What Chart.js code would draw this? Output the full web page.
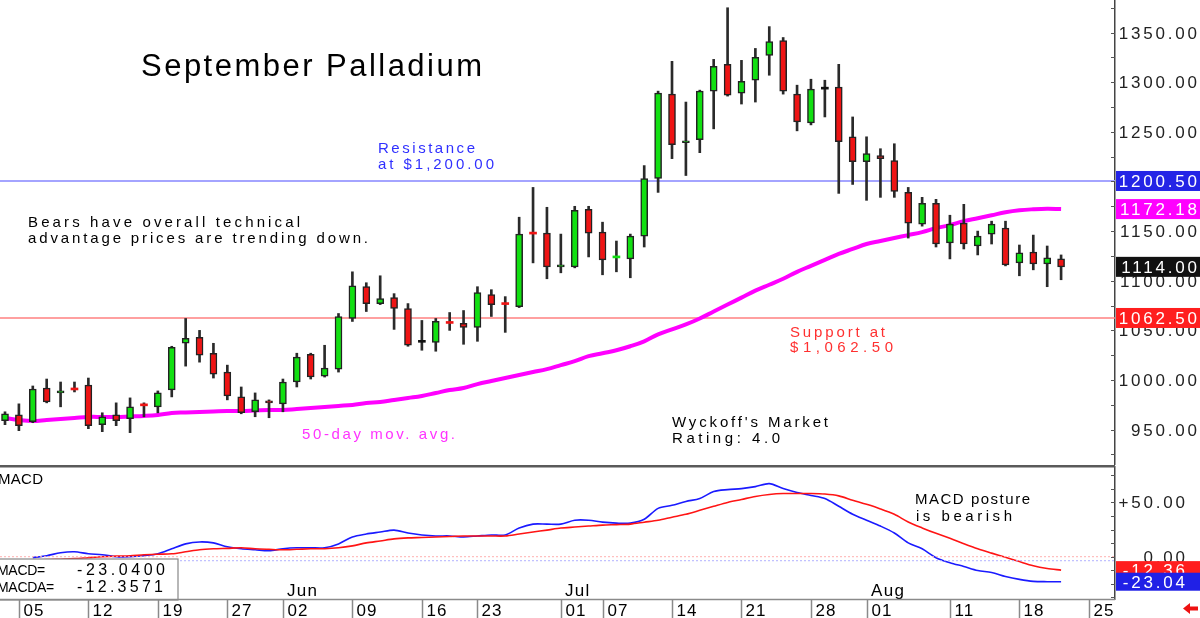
<!DOCTYPE html>
<html>
<head>
<meta charset="utf-8">
<script src="https://cdn.jsdelivr.net/npm/chart.js@4.4.0/dist/chart.umd.min.js"></script>
<style>
  html, body { margin: 0; padding: 0; background: #fff; overflow: hidden; }
  #wrap { position: relative; width: 1200px; height: 618px; }
  canvas { position: absolute; left: 0; }
  #main { top: 0; }
  #macd { top: 465px; }
</style>
</head>
<body>
<div id="wrap">
  <canvas id="main" width="1200" height="465"></canvas>
  <canvas id="macd" width="1200" height="153"></canvas>
</div>
<script>
// daily OHLC, one entry per trading session
const opens  = [959,965,958,992,987,991.5,995,955,965,961,975.5,973,990,1037,1043,1027,1008,983,968,979,
                976,998,1026,1004,1011,1062,1094,1077,1083,1072,1039,1038,1058.5,1057,1053,1086,1077.5,
                1074,1148.5,1148,1114,1114,1172,1149,1123.5,1122,1145,1203,1288,1239,1242,1291,1318,1289,
                1302,1327,1342,1288,1259,1294,1295,1245,1220,1226,1221,1189,1157,1178,1138,1158,1135,1147,
                1153,1118,1129,1117,1122];
const highs  = [968,976,994,1001,998,998,1002,967,977,982,977,989,1034,1062,1050,1037,1015,993,987,980,
                1001,1027,1027,1035,1067,1109,1098,1105,1087,1077,1060,1062,1068,1070,1094,1091,1084,
                1164,1194,1174,1147,1175,1175,1159,1140,1147,1216,1291,1321,1280,1292,1323,1375,1322,
                1334,1356,1345,1297,1303,1302,1318,1265,1245,1233,1238,1194,1184,1182,1166,1177,1150,1160,
                1160,1136,1146,1135,1126];
const lows   = [955,949,957,977,973,988,951,948,954,947,963,967,983,1014,1018,1002,980,966,963,962,
                968,993,1001,1003,1008,1059,1069,1076,1051,1034,1030,1029,1050,1036,1039,1064,1048,
                1073,1118,1102,1108,1113,1124,1106,1109,1103,1134,1189,1223,1206,1229,1253,1286,1278,
                1280,1307,1288,1251,1257,1265,1188,1197,1181,1184,1184,1143,1155,1134,1122,1132,1126,1137,
                1115,1105,1111,1094,1101];
const closes = [966,954,991,978,989,990.5,954,963,959,973,974.5,987,1033,1042,1025,1006,984,967,980,977,
                998,1023,1003,1012,1064,1095,1077,1082,1072,1035,1039,1059,1057.5,1053,1088,1076,1076.5,
                1147,1147.5,1114,1116,1171,1148,1121,1124.5,1145,1203,1289,1237,1241,1291,1316,1287,1301,
                1325,1341,1291,1260,1293,1294,1240,1220,1228,1223,1190,1158,1178,1137,1157,1137,1145,1157,
                1116,1128,1117,1123,1114];
// 50-day moving average
const ma50 = [961.8,959.8,958.8,959.8,960.8,961.8,962.8,962.8,962.8,963.3,963.8,964.8,966.8,967.3,967.8,968.3,
              968.8,968.8,969.3,969.8,969.8,970.8,971.8,972.9,973.9,974.9,976.9,977.9,979.9,981.9,983.9,986.9,
              989.9,991.9,995.9,999,1002,1005,1008,1011,1015,1019,1024,1027,1030,1034,1039,1046,1051,1056,
              1062,1069,1076,1083,1090,1096,1102,1109,1115,1121,1127,1132,1137,1140,1143,1146,1149,1153,
              1156,1160,1163,1166,1169,1171,1172,1172.5,1172.18];
// MACD (blue) and its average MACDA (red)
const macd  = [null,null,-0.9,0.9,3.6,4.5,2.7,1.8,0,0,0.9,2.7,7.3,11.8,13.6,12.7,9.1,7.3,6.4,5.5,
               7.3,8.2,8.2,8.2,11.8,18.2,20.9,22.7,24.5,21.8,20,19.1,19.1,18.2,19.1,20,20,26.4,30,30,
               30,33.6,33.6,31.8,30.9,30.9,34.5,44.5,47.3,50.9,53.6,60,61.8,62.7,64.5,67.3,62.7,59.1,56.4,
               53.6,46.4,39.1,33.6,28.2,21.8,12.7,7.3,-0.9,-5.5,-9,-12.7,-14.5,-18.2,-20.9,-22.7,-23,-23.04];
const macdA = [null,null,-3.6,-2.7,-2.3,-1.8,-0.9,0,0.5,0.9,1.8,2.3,2.7,4.5,6.4,7.3,7.7,8.2,7.3,6.8,
               6.4,6.8,7.3,7.3,8.2,10,12.7,14.5,16.4,17.3,17.7,18.2,18.6,19.1,19.1,19.1,19.1,20.9,22.7,24.5,
               26.4,27.3,28.2,29.1,29.5,30,31.8,33.6,36.4,39.1,42.7,46.4,50,52.7,55.5,57.3,58.2,58.2,58.2,
               57.7,56,52,48.2,44,39,32,26.5,21.5,17,12,7.3,3.3,-0.5,-4.5,-8.3,-10.8,-12.36];
const macdLast = -23.0400, macdALast = -12.3571;

// x axis: session index of each weekly tick, its day label, and month starts
const tickIdx = [1,6,11,16,20,25,30,34,40,43,48,53,58,62,68,73,78];
const tickLbl = ['05','12','19','27','02','09','16','23','01','07','14','21','28','01','11','18','25'];
const monthIdx = [20,40,62];
const monthLbl = ['Jun','Jul','Aug'];

const priceTicks = [1350,1300,1250,1200,1150,1100,1050,1000,950];
const macdTicks = [50,0];
const resistance = 1200.50;
const support = 1062.50;

// ---------------------------------------------------------------
const FONT = "'Liberation Sans', Arial, sans-serif";
const GREEN = '#12e012', RED = '#ee1414';
const xMin = -0.36, xMax = 79.88;
const idx = opens.map((_, i) => i);

function drawText(ctx, s, x, y, o) {
  ctx.save();
  ctx.font = o.font;
  ctx.fillStyle = o.color || '#000';
  ctx.textBaseline = 'alphabetic';
  ctx.textAlign = 'left';
  ctx.letterSpacing = '0px';
  const raw = ctx.measureText(s).width;
  let sp = o.sp || 0;
  if (o.w) sp = (o.w - raw) / (s.length - 1);
  const w = raw + sp * (s.length - 1);
  if (o.align === 'right') x -= w;
  ctx.letterSpacing = sp + 'px';
  ctx.fillText(s, x, y);
  ctx.restore();
}

function axisBox(ctx, y, label, bg, right, h) {
  ctx.fillStyle = bg;
  ctx.fillRect(1116, y - h / 2, 84, h);
  drawText(ctx, label, right, y + 6, { font: '17px ' + FONT, color: '#fff', sp: 2.8, align: 'right' });
}

const dir = idx.map(i => Math.sign(closes[i] - opens[i]));
const thin = idx.map(i => Math.abs(closes[i] - opens[i]) <= 1);
const bodyColor = idx.map(i => dir[i] > 0 ? GREEN : dir[i] < 0 ? RED : '#111');
const bodies = idx.map(i => {
  const lo = Math.min(opens[i], closes[i]), hi = Math.max(opens[i], closes[i]);
  const mid = (lo + hi) / 2;
  return { x: i, y: thin[i] ? [mid - 1, mid + 1] : [lo, hi] };
});
const wicks = idx.map(i => ({ x: i, y: [lows[i], highs[i]] }));

const mainDecor = {
  id: 'mainDecor',
  afterDraw(chart) {
    const ctx = chart.ctx, y = chart.scales.y, area = chart.chartArea;
    ctx.save();
    // minor ticks on the price axis
    ctx.strokeStyle = '#555';
    ctx.lineWidth = 1;
    for (let v = 925; v <= 1375; v += 25) {
      const py = Math.round(y.getPixelForValue(v)) + 0.5;
      ctx.beginPath(); ctx.moveTo(area.right - 4, py); ctx.lineTo(area.right, py); ctx.stroke();
    }
    priceTicks.forEach(v => {
      drawText(ctx, v.toFixed(2), 1197, y.getPixelForValue(v) + 6, { font: '17px ' + FONT, color: '#222', sp: 2.8, align: 'right' });
    });
    axisBox(ctx, y.getPixelForValue(resistance), resistance.toFixed(2), '#2424e6', 1197, 20);
    axisBox(ctx, y.getPixelForValue(ma50[ma50.length - 1]), ma50[ma50.length - 1].toFixed(2), '#ff00ff', 1197, 20);
    axisBox(ctx, y.getPixelForValue(closes[closes.length - 1]), closes[closes.length - 1].toFixed(2), '#111', 1197, 20);
    axisBox(ctx, y.getPixelForValue(support), support.toFixed(2), '#ff1e1e', 1197, 20);

    drawText(ctx, 'September Palladium', 141, 76, { font: '31px ' + FONT, color: '#000', w: 341 });
    drawText(ctx, 'Resistance', 378, 153, { font: '15px ' + FONT, color: '#3030ff', w: 97 });
    drawText(ctx, 'at $1,200.00', 378, 169, { font: '15px ' + FONT, color: '#3030ff', w: 116 });
    drawText(ctx, 'Bears have overall technical', 28, 227, { font: '15px ' + FONT, color: '#000', w: 272 });
    drawText(ctx, 'advantage prices are trending down.', 28, 243, { font: '15px ' + FONT, color: '#000', w: 340 });
    drawText(ctx, 'Support at', 790, 337, { font: '15px ' + FONT, color: '#ff3030', w: 95 });
    drawText(ctx, '$1,062.50', 790, 352, { font: '15px ' + FONT, color: '#ff3030', w: 103 });
    drawText(ctx, '50-day mov. avg.', 302, 439, { font: '15px ' + FONT, color: '#ff33ff', w: 153 });
    drawText(ctx, "Wyckoff's Market", 672, 427, { font: '15px ' + FONT, color: '#000', w: 156 });
    drawText(ctx, 'Rating: 4.0', 672, 443, { font: '15px ' + FONT, color: '#000', w: 108 });
    ctx.restore();
  }
};

new Chart(document.getElementById('main').getContext('2d'), {
  type: 'bar',
  data: {
    datasets: [
      { data: bodies, backgroundColor: bodyColor, borderColor: '#222',
        borderWidth: idx.map(i => thin[i] ? 0 : 1.5), borderSkipped: false,
        barThickness: 7, grouped: false, order: 0 },
      { data: wicks, backgroundColor: '#2a2a2a', borderWidth: 0,
        barThickness: 2, grouped: false, order: 1 },
      { type: 'line', data: idx.map(i => ({ x: i, y: ma50[i] })), borderColor: '#ff00ff',
        borderWidth: 4, pointRadius: 0, tension: 0.4, order: 2 },
      { type: 'line', data: [{ x: xMin, y: resistance }, { x: xMax, y: resistance }],
        borderColor: '#a4a4ff', borderWidth: 2, pointRadius: 0, order: 3 },
      { type: 'line', data: [{ x: xMin, y: support }, { x: xMax, y: support }],
        borderColor: '#ff8080', borderWidth: 1.5, pointRadius: 0, order: 3 }
    ]
  },
  options: {
    responsive: false,
    animation: false,
    devicePixelRatio: 1,
    events: [],
    layout: { padding: 0 },
    plugins: { legend: { display: false }, tooltip: { enabled: false } },
    scales: {
      x: { type: 'linear', min: xMin, max: xMax, offset: false, display: false },
      y: {
        position: 'right', min: 914.4, max: 1382.8, beginAtZero: false,
        ticks: { display: false }, grid: { display: false },
        border: { display: true, color: '#444', width: 1.5 },
        afterFit(scale) { scale.width = 85; }
      }
    }
  },
  plugins: [mainDecor]
});

const macdDecor = {
  id: 'macdDecor',
  afterDraw(chart) {
    const ctx = chart.ctx, y = chart.scales.y, x = chart.scales.x, area = chart.chartArea;
    ctx.save();
    // panel separator
    ctx.fillStyle = '#5a5a5a';
    ctx.fillRect(0, 0, area.right, 2.5);
    ctx.strokeStyle = '#555';
    ctx.lineWidth = 1;
    for (let v = -37.5; v <= 75; v += 12.5) {
      const py = Math.round(y.getPixelForValue(v)) + 0.5;
      ctx.beginPath(); ctx.moveTo(area.right - 4, py); ctx.lineTo(area.right, py); ctx.stroke();
    }
    macdTicks.forEach(v => {
      drawText(ctx, (v > 0 ? '+' : '') + v.toFixed(2), 1185, y.getPixelForValue(v) + 6, { font: '17px ' + FONT, color: '#222', sp: 2.8, align: 'right' });
    });
    axisBox(ctx, y.getPixelForValue(macdA[macdA.length - 1]), macdALast.toFixed(2), '#ff1e1e', 1185, 18);
    axisBox(ctx, y.getPixelForValue(macd[macd.length - 1]), macdLast.toFixed(2), '#2020e6', 1185, 18);

    drawText(ctx, 'MACD', -2, 19, { font: '15px ' + FONT, color: '#000', sp: 0.3 });
    drawText(ctx, 'MACD posture', 915, 39, { font: '15px ' + FONT, color: '#000', w: 115 });
    drawText(ctx, 'is bearish', 916, 56, { font: '15px ' + FONT, color: '#000', w: 96 });

    // legend box
    ctx.fillStyle = '#fff';
    ctx.fillRect(0, 94, 178, 40);
    ctx.strokeStyle = '#888';
    ctx.lineWidth = 1.2;
    ctx.strokeRect(-1, 94, 179, 41);
    drawText(ctx, 'MACD=', -3, 110, { font: '14px ' + FONT, color: '#000', sp: -0.3 });
    drawText(ctx, macdLast.toFixed(4), 77, 110, { font: '16px ' + FONT, color: '#000', w: 88 });
    drawText(ctx, 'MACDA=', -3, 127, { font: '14px ' + FONT, color: '#000', sp: -0.3 });
    drawText(ctx, macdALast.toFixed(4), 77, 127, { font: '16px ' + FONT, color: '#000', w: 86 });

    // month names
    monthIdx.forEach((m, k) => {
      drawText(ctx, monthLbl[k], Math.round(x.getPixelForValue(m)) + 4, 131, { font: '17px ' + FONT, color: '#000', sp: 1.3 });
    });

    // date strip
    ctx.strokeStyle = '#8a8a8a';
    ctx.lineWidth = 1.5;
    ctx.beginPath(); ctx.moveTo(0, 134.5); ctx.lineTo(area.right, 134.5); ctx.stroke();
    tickIdx.forEach((t, k) => {
      const px = Math.round(x.getPixelForValue(t)) + 0.5;
      ctx.beginPath(); ctx.moveTo(px, 134.5); ctx.lineTo(px, 153); ctx.stroke();
      drawText(ctx, tickLbl[k], px + 4, 151, { font: '17px ' + FONT, color: '#000', sp: 1 });
    });

    // red arrow at lower right
    ctx.fillStyle = '#ee1111';
    ctx.beginPath();
    ctx.moveTo(1183, 143.5); ctx.lineTo(1190, 138); ctx.lineTo(1190, 141.5); ctx.lineTo(1198, 141.5);
    ctx.lineTo(1198, 145.5); ctx.lineTo(1190, 145.5); ctx.lineTo(1190, 149); ctx.closePath();
    ctx.fill();
    ctx.restore();
  }
};

new Chart(document.getElementById('macd').getContext('2d'), {
  type: 'line',
  data: {
    datasets: [
      { data: [{ x: xMin, y: 0 }, { x: xMax, y: 0 }], borderColor: '#ffb0b0', borderWidth: 1,
        borderDash: [2, 2], pointRadius: 0 },
      { data: [{ x: xMin, y: -3.7 }, { x: xMax, y: -3.7 }], borderColor: '#b0b0ff', borderWidth: 1,
        borderDash: [2, 2], pointRadius: 0 },
      { data: idx.map(i => ({ x: i, y: macdA[i] })), borderColor: '#ff1414', borderWidth: 1.6,
        pointRadius: 0, tension: 0.3 },
      { data: idx.map(i => ({ x: i, y: macd[i] })), borderColor: '#1a1aff', borderWidth: 1.6,
        pointRadius: 0, tension: 0.3 }
    ]
  },
  options: {
    responsive: false,
    animation: false,
    devicePixelRatio: 1,
    events: [],
    layout: { padding: { top: 2, bottom: 19, left: 0, right: 0 } },
    plugins: { legend: { display: false }, tooltip: { enabled: false } },
    scales: {
      x: { type: 'linear', min: xMin, max: xMax, display: false },
      y: {
        position: 'right', min: -38.95, max: 82.6,
        ticks: { display: false }, grid: { display: false },
        border: { display: true, color: '#444', width: 1.5 },
        afterFit(scale) { scale.width = 85; }
      }
    }
  },
  plugins: [macdDecor]
});
</script>
</body>
</html>
